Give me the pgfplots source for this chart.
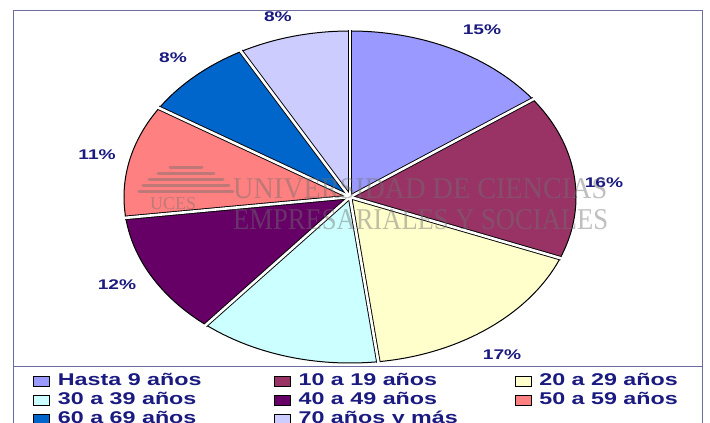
\documentclass[border=0pt]{standalone}
\usepackage{pgfplots}
\pgfplotsset{compat=1.18}
\usepackage{pgfplotstable}
\usepackage{graphicx}
\usepackage{fontspec}
\setmainfont{Liberation Sans}
\newfontfamily\wmfont{Liberation Serif}

\definecolor{cA}{HTML}{9999FF}
\definecolor{cB}{HTML}{993366}
\definecolor{cC}{HTML}{FFFFCC}
\definecolor{cD}{HTML}{CCFFFF}
\definecolor{cE}{HTML}{660066}
\definecolor{cF}{HTML}{FF8080}
\definecolor{cG}{HTML}{0066CC}
\definecolor{cH}{HTML}{CCCCFF}
\definecolor{navyt}{HTML}{1A1A80}
\definecolor{framec}{HTML}{6C6CA0}
\definecolor{wmgray}{HTML}{707070}

% percentages by age group, clockwise from 12 o'clock
\pgfplotstableread{
value fillc
15 cA
16 cB
17 cC
13 cD
12 cE
11 cF
8  cG
8  cH
}\piedata

% label positions (axis units) and printed value
\pgfplotstableread{
lx ly pct
0.584 1.006 15
1.124 0.084 16
0.673 -0.952 17
-1.031 -0.530 12
-1.119 0.253 11
-0.783 0.837 8
-0.319 1.084 8
}\labeldata

\newcommand{\wide}[1]{\scalebox{1.37}[1]{#1}}
\newcommand{\entry}[1]{\makebox[216pt][l]{\wide{#1}}}

\begin{document}
\begin{tikzpicture}
\useasboundingbox (0,0) rectangle (710pt,423pt);

\begin{axis}[
  at={(350pt,226pt)}, anchor=center,
  scale only axis, width=452pt, height=332pt,
  xmin=-1, xmax=1, ymin=-1, ymax=1,
  hide axis, clip=false,
  legend columns=3,
  legend image code/.code={\draw[#1] (0pt,-5pt) rectangle (16pt,5pt);},
  legend style={
    at={(-0.2013,-0.027)}, anchor=north west,
    draw=none, fill=none, inner sep=0pt,
    font=\fontsize{17}{17}\selectfont\bfseries,
    text=navyt,
    nodes={inner sep=0pt, text height=13pt, text depth=6pt},
    row sep=0pt, column sep=0pt,
    /tikz/every odd column/.append style={column sep=8pt},
    cells={anchor=west},
  },
]
\pgfplotsextra{%
  % slices
  \gdef\angA{90}%
  \foreach \i in {0,...,7}{%
    \pgfplotstablegetelem{\i}{value}\of\piedata \let\val\pgfplotsretval
    \pgfplotstablegetelem{\i}{fillc}\of\piedata \let\col\pgfplotsretval
    \pgfmathsetmacro\angB{\angA-3.6*\val}%
    \fill[fill=\col]
      (axis cs:0,0) -- (axis cs:{cos(\angA)},{sin(\angA)})
      arc[start angle=\angA, end angle=\angB, x radius=226pt, y radius=166pt]
      -- cycle;
    \xdef\angA{\angB}%
  }%
  \draw[black, line width=1pt] (axis cs:0,0) ellipse[x radius=226pt, y radius=166pt];
  % separating gaps: black edges, white core
  \gdef\angA{90}%
  \foreach \i in {0,...,7}{%
    \pgfplotstablegetelem{\i}{value}\of\piedata \let\val\pgfplotsretval
    \draw[black, line width=4.4pt] (axis cs:0,0) -- (axis cs:{1.004*cos(\angA)},{1.004*sin(\angA)});
    \pgfmathsetmacro\angB{\angA-3.6*\val}%
    \xdef\angA{\angB}%
  }%
  \gdef\angA{90}%
  \foreach \i in {0,...,7}{%
    \pgfplotstablegetelem{\i}{value}\of\piedata \let\val\pgfplotsretval
    \draw[white, line width=2.6pt] (axis cs:0,0) -- (axis cs:{1.01*cos(\angA)},{1.01*sin(\angA)});
    \pgfmathsetmacro\angB{\angA-3.6*\val}%
    \xdef\angA{\angB}%
  }%
}
\addplot[forget plot, only marks, mark=*, mark size=0pt,
  point meta=explicit symbolic,
  nodes near coords={\wide{\pgfplotspointmeta\%}},
  every node near coord/.style={anchor=center, inner sep=0pt,
    font=\fontsize{14}{14}\selectfont\bfseries, text=navyt}]
  table[x=lx, y=ly, meta=pct] {\labeldata};

\addlegendimage{fill=cA, draw=black, line width=0.7pt}
\addlegendentry{\entry{Hasta 9 años}}
\addlegendimage{fill=cB, draw=black, line width=0.7pt}
\addlegendentry{\entry{10 a 19 años}}
\addlegendimage{fill=cC, draw=black, line width=0.7pt}
\addlegendentry{\entry{20 a 29 años}}
\addlegendimage{fill=cD, draw=black, line width=0.7pt}
\addlegendentry{\entry{30 a 39 años}}
\addlegendimage{fill=cE, draw=black, line width=0.7pt}
\addlegendentry{\entry{40 a 49 años}}
\addlegendimage{fill=cF, draw=black, line width=0.7pt}
\addlegendentry{\entry{50 a 59 años}}
\addlegendimage{fill=cG, draw=black, line width=0.7pt}
\addlegendentry{\entry{60 a 69 años}}
\addlegendimage{fill=cH, draw=black, line width=0.7pt}
\addlegendentry{\entry{70 años y más}}
\end{axis}

\begin{scope}[x=1pt, y=-1pt, shift={(0pt,423pt)}]
  % frame
  \draw[framec, line width=0.9pt] (13,440) -- (13,10) -- (702,10) -- (702,440);
  \draw[framec, line width=0.9pt] (13,366) -- (702,366);
  % watermark
  \begin{scope}[opacity=0.45]
    \node[anchor=south west, inner sep=0pt, text=wmgray] at (233,199)
      {\resizebox{374pt}{20pt}{\wmfont UNIVERSIDAD DE CIENCIAS}};
    \node[anchor=south west, inner sep=0pt, text=wmgray] at (233,230)
      {\resizebox{375pt}{20pt}{\wmfont EMPRESARIALES Y SOCIALES}};
    \foreach \yy/\hw in {168/16, 174/28, 180/37, 186/43, 192/47}
      \draw[wmgray, line width=3pt, line cap=round] (186-\hw,\yy) -- (186+\hw,\yy);
    \node[anchor=south west, inner sep=0pt, text=wmgray] at (150,210)
      {\resizebox{46pt}{12pt}{\wmfont UCES}};
  \end{scope}
\end{scope}
\end{tikzpicture}
\end{document}
